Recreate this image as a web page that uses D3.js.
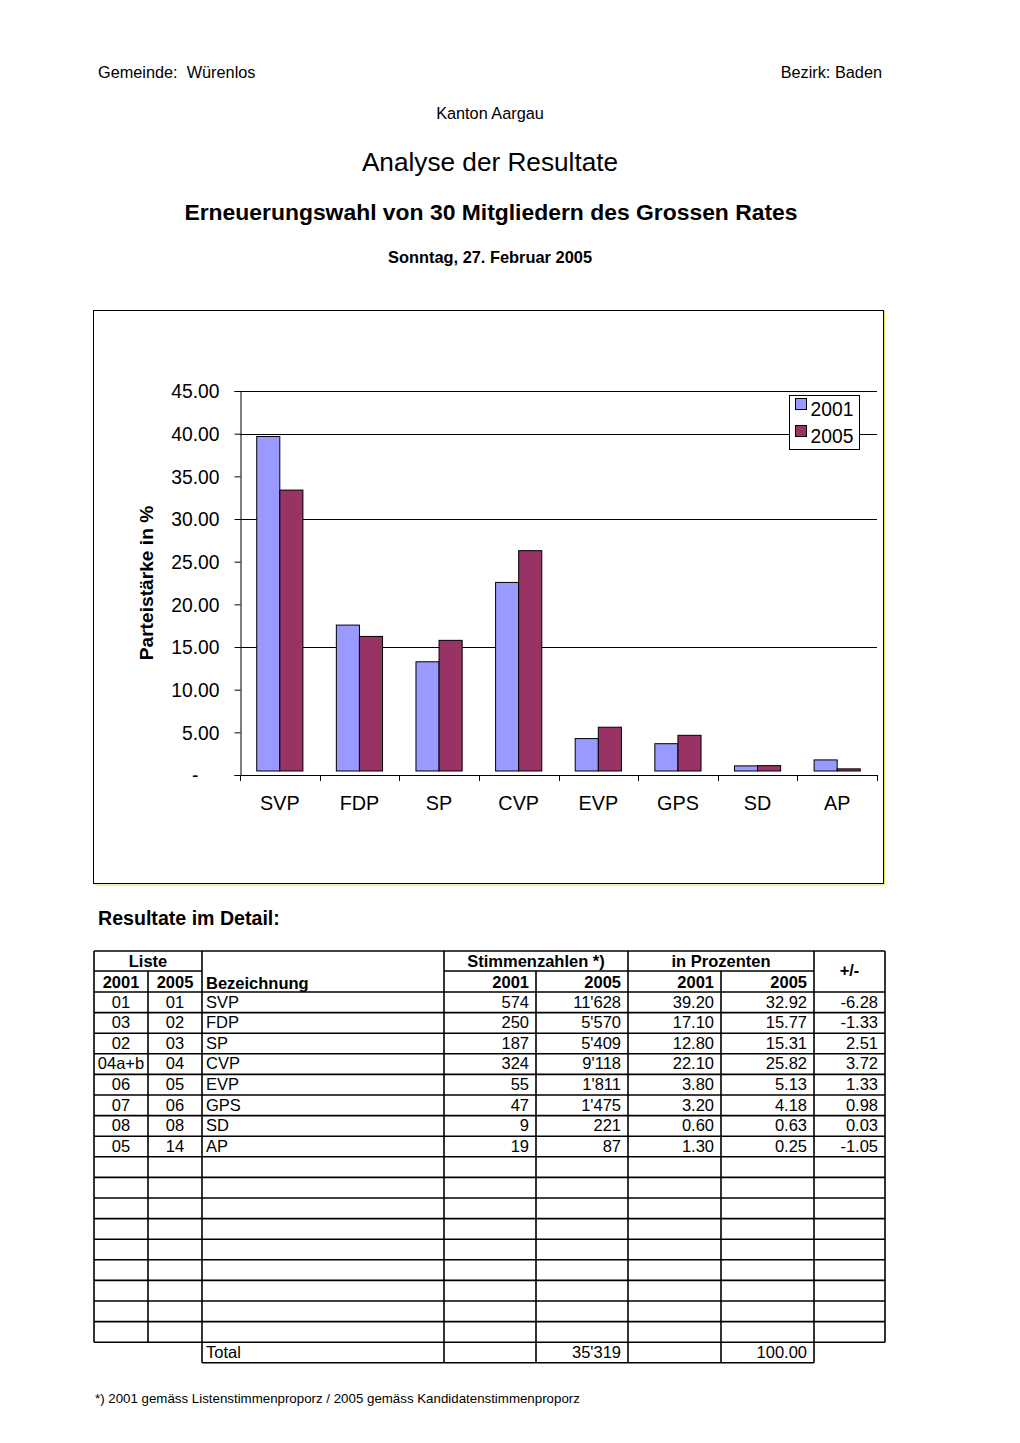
<!DOCTYPE html>
<html>
<head>
<meta charset="utf-8">
<script src="https://cdn.jsdelivr.net/npm/d3@7"></script>
<style>
  body { margin: 0; background: #fff; }
  svg { display: block; font-family: "Liberation Sans", Arial, sans-serif; }
</style>
</head>
<body>
<svg id="page" width="1020" height="1443"></svg>
<script>
// Grossratswahl Würenlos 2005 - bar chart + result table

const parties = ['SVP', 'FDP', 'SP', 'CVP', 'EVP', 'GPS', 'SD', 'AP'];
const pct2001 = [39.20, 17.10, 12.80, 22.10, 3.80, 3.20, 0.60, 1.30];
const pct2005 = [32.92, 15.77, 15.31, 25.82, 5.13, 4.18, 0.63, 0.25];
const years = ['2001', '2005'];
const yTicks = [0, 5, 10, 15, 20, 25, 30, 35, 40, 45];
const gridValues = [15, 30, 40, 45];

const liste2001 = ['01', '03', '02', '04a+b', '06', '07', '08', '05'];
const liste2005 = ['01', '02', '03', '04', '05', '06', '08', '14'];
const votes2001 = ['574', '250', '187', '324', '55', '47', '9', '19'];
const votes2005 = ["11'628", "5'570", "5'409", "9'118", "1'811", "1'475", '221', '87'];
const diff = ['-6.28', '-1.33', '2.51', '3.72', '1.33', '0.98', '0.03', '-1.05'];
const totalVotes2005 = "35'319";
const totalPct2005 = '100.00';

const colors = { '2001': '#9999ff', '2005': '#993366' };

const svg = d3.select('#page');

// Header texts
svg.append('text').attr('x', 98).attr('y', 78).attr('font-size', 16.3).text('Gemeinde:  Würenlos')
  .style('white-space', 'pre');
svg.append('text').attr('x', 882).attr('y', 78).attr('font-size', 16.3).attr('text-anchor', 'end').text('Bezirk: Baden');
svg.append('text').attr('x', 490).attr('y', 119).attr('font-size', 16.3).attr('text-anchor', 'middle').text('Kanton Aargau');
svg.append('text').attr('x', 490).attr('y', 171).attr('font-size', 26.2).attr('text-anchor', 'middle').text('Analyse der Resultate');
svg.append('text').attr('x', 491).attr('y', 220).attr('font-size', 22.9).attr('font-weight', 'bold')
  .attr('text-anchor', 'middle').text('Erneuerungswahl von 30 Mitgliedern des Grossen Rates');
svg.append('text').attr('x', 490).attr('y', 263).attr('font-size', 16.4).attr('font-weight', 'bold')
  .attr('text-anchor', 'middle').text('Sonntag, 27. Februar 2005');

// Chart frame
svg.append('rect').attr('x', 93.5).attr('y', 310.5).attr('width', 790).attr('height', 573)
  .attr('fill', '#fff').attr('stroke', '#000').attr('stroke-width', 1);
svg.append('path').attr('d', 'M884.5,311 V885 H94').attr('fill', 'none').attr('stroke', '#e8e060').attr('stroke-width', 1);

// Plot area
const plot = { left: 240, right: 877, top: 391, bottom: 775 };
const x = d3.scaleBand().domain(parties).range([plot.left, plot.right]).paddingInner(0.42).paddingOuter(0.21);
const x1 = d3.scaleBand().domain(years).range([0, x.bandwidth()]);
const y = d3.scaleLinear().domain([0, 45]).range([plot.bottom, plot.top]);
const barLift = 4;

const g = svg.append('g');

// Gridlines
g.selectAll('.grid').data(gridValues).join('line')
  .attr('x1', plot.left).attr('x2', plot.right)
  .attr('y1', d => Math.round(y(d)) + 0.5).attr('y2', d => Math.round(y(d)) + 0.5)
  .attr('stroke', '#000').attr('stroke-width', 1);

// Bars
const series = [pct2001, pct2005];
years.forEach((yr, si) => {
  g.selectAll('.bar' + yr).data(parties).join('rect')
    .attr('x', d => x(d) + x1(yr))
    .attr('y', (d, i) => y(series[si][i]) - barLift)
    .attr('width', x1.bandwidth())
    .attr('height', (d, i) => y(0) - y(series[si][i]))
    .attr('fill', colors[yr])
    .attr('stroke', '#000').attr('stroke-width', 1);
});

// Y axis
const yAxis = d3.axisLeft(y).tickValues(yTicks).tickSize(6).tickPadding(15)
  .tickFormat(d => d === 0 ? '-' : d3.format('.2f')(d));
const yG = g.append('g').attr('transform', `translate(${plot.left + 0.5},0)`).call(yAxis);
yG.selectAll('text').attr('font-size', 19.3).attr('font-family', '"Liberation Sans", Arial, sans-serif').attr('fill', '#000')
  .attr('dy', '0.35em');
yG.selectAll('.tick').filter(d => d === 0).select('text').attr('x', -42);
yG.selectAll('line, path').attr('stroke', '#000');

// X axis: ticks at category boundaries
const bounds = parties.map(p => x(p) - x.step() * x.paddingInner() / 2);
bounds.push(plot.right);
g.append('line').attr('x1', plot.left).attr('x2', plot.right).attr('y1', plot.bottom + 0.5).attr('y2', plot.bottom + 0.5)
  .attr('stroke', '#000');
g.selectAll('.xtick').data(bounds).join('line')
  .attr('x1', d => Math.round(d) + 0.5).attr('x2', d => Math.round(d) + 0.5)
  .attr('y1', plot.bottom).attr('y2', plot.bottom + 6).attr('stroke', '#000');
g.selectAll('.xlab').data(parties).join('text')
  .attr('x', d => x(d) + x.bandwidth() / 2).attr('y', 810)
  .attr('text-anchor', 'middle').attr('font-size', 19.8).text(d => d);

// Y title
svg.append('text').attr('transform', 'translate(153,583) rotate(-90)')
  .attr('text-anchor', 'middle').attr('font-size', 19.2).attr('font-weight', 'bold')
  .text('Parteistärke in %');

// Legend
const leg = svg.append('g').attr('transform', 'translate(789.5,395.5)');
leg.append('rect').attr('width', 70).attr('height', 54).attr('fill', '#fff').attr('stroke', '#000');
years.forEach((yr, i) => {
  leg.append('rect').attr('x', 6).attr('y', 3 + i * 27).attr('width', 11).attr('height', 11)
    .attr('fill', colors[yr]).attr('stroke', '#000');
  leg.append('text').attr('x', 21).attr('y', 20 + i * 27).attr('font-size', 19.3).text(yr);
});

// ---- Table ----
svg.append('text').attr('x', 98).attr('y', 925).attr('font-size', 19.6).attr('font-weight', 'bold').text('Resultate im Detail:');

const cols = [94, 148, 202, 444, 536, 628, 721, 814, 885];
const tTop = 951, hRow1 = 971, hRow2 = 992;
const rowH = 20.6;
const nRows = 17;
const dataBottom = hRow2 + nRows * rowH;
const totalBottom = dataBottom + 20.6;
const t = svg.append('g').attr('stroke', '#000').attr('stroke-width', 1.6).attr('fill', 'none');

function hline(x1, x2, yy) { t.append('line').attr('x1', x1).attr('x2', x2).attr('y1', yy).attr('y2', yy); }
function vline(xx, y1, y2) { t.append('line').attr('x1', xx).attr('x2', xx).attr('y1', y1).attr('y2', y2); }

hline(cols[0], cols[8], tTop);
hline(cols[0], cols[2], hRow1);
hline(cols[3], cols[7], hRow1);
for (let r = 0; r <= nRows; r++) hline(cols[0], cols[8], hRow2 + r * rowH);
hline(cols[2], cols[7], totalBottom);
// vertical lines
[0, 2, 3, 5, 7, 8].forEach(c => vline(cols[c], tTop, hRow1));
cols.forEach(c => vline(c, hRow1, dataBottom));
[2, 3, 4, 5, 6, 7].forEach(c => vline(cols[c], dataBottom, totalBottom));

const tt = svg.append('g').attr('font-size', 16.5);
function cell(txt, c, yy, align, bold) {
  let xx, anchor;
  if (align === 'middle') { xx = (cols[c] + cols[c + 1]) / 2; anchor = 'middle'; }
  else if (align === 'end') { xx = cols[c + 1] - 7; anchor = 'end'; }
  else { xx = cols[c] + 4; anchor = 'start'; }
  tt.append('text').attr('x', xx).attr('y', yy).attr('text-anchor', anchor)
    .attr('font-weight', bold ? 'bold' : null).text(txt);
}
// header row 1
tt.append('text').attr('x', (cols[0] + cols[2]) / 2).attr('y', hRow1 - 4).attr('text-anchor', 'middle').attr('font-weight', 'bold').text('Liste');
tt.append('text').attr('x', (cols[3] + cols[5]) / 2).attr('y', hRow1 - 4).attr('text-anchor', 'middle').attr('font-weight', 'bold').text('Stimmenzahlen *)');
tt.append('text').attr('x', (cols[5] + cols[7]) / 2).attr('y', hRow1 - 4).attr('text-anchor', 'middle').attr('font-weight', 'bold').text('in Prozenten');
tt.append('text').attr('x', (cols[7] + cols[8]) / 2).attr('y', hRow1 + 5).attr('text-anchor', 'middle').attr('font-weight', 'bold').text('+/-');
// header row 2
const h2y = hRow2 - 4;
cell('2001', 0, h2y, 'middle', true);
cell('2005', 1, h2y, 'middle', true);
cell('Bezeichnung', 2, h2y + 1, 'start', true);
cell('2001', 3, h2y, 'end', true);
cell('2005', 4, h2y, 'end', true);
cell('2001', 5, h2y, 'end', true);
cell('2005', 6, h2y, 'end', true);

parties.forEach((p, i) => {
  const yy = hRow2 + i * rowH + 15.5;
  cell(liste2001[i], 0, yy, 'middle');
  cell(liste2005[i], 1, yy, 'middle');
  cell(p, 2, yy, 'start');
  cell(votes2001[i], 3, yy, 'end');
  cell(votes2005[i], 4, yy, 'end');
  cell(pct2001[i].toFixed(2), 5, yy, 'end');
  cell(pct2005[i].toFixed(2), 6, yy, 'end');
  cell(diff[i], 7, yy, 'end');
});
const totY = dataBottom + 15.5;
cell('Total', 2, totY, 'start');
cell(totalVotes2005, 4, totY, 'end');
cell(totalPct2005, 6, totY, 'end');

svg.append('text').attr('x', 95).attr('y', 1403).attr('font-size', 13.3)
  .text('*) 2001 gemäss Listenstimmenproporz / 2005 gemäss Kandidatenstimmenproporz');
</script>
</body>
</html>
